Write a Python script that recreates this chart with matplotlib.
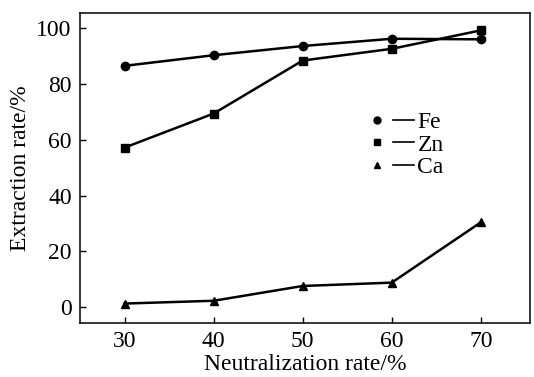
import matplotlib
matplotlib.use("Agg")
import matplotlib.pyplot as plt
from matplotlib.lines import Line2D
from matplotlib.legend_handler import HandlerTuple

# neutralization rate vs extraction rate of Fe, Zn, Ca
neutral = [30, 40, 50, 60, 70]
fe = [86.5, 90.3, 93.6, 96.2, 96.0]
zn = [57.2, 69.4, 88.4, 92.6, 99.2]
ca = [1.3, 2.3, 7.6, 8.8, 30.4]

plt.rcParams['font.family'] = ['Liberation Serif', 'DejaVu Serif']

fig = plt.figure(figsize=(5.34, 3.77), dpi=100)
ax = fig.add_axes([0.150, 0.143, 0.842, 0.823])

kw = dict(color='black', lw=1.8, markersize=6)
ax.plot(neutral, fe, marker='o', **kw)
ax.plot(neutral, zn, marker='s', **kw)
ax.plot(neutral, ca, marker='^', **kw)

ax.set_xlim(25, 75.5)
ax.set_ylim(-5.7, 105.5)
ax.set_xticks(neutral)
ax.set_yticks([0, 20, 40, 60, 80, 100])
ax.tick_params(direction='in', length=4, width=1, labelsize=17, pad=6)
for s in ax.spines.values():
    s.set_linewidth(1.1)

ax.set_xlabel('Neutralization rate/%', fontsize=17, labelpad=1)
ax.set_ylabel('Extraction rate/%', fontsize=17, labelpad=4)

# legend: marker, then a short dash, then the element name
names = ['Fe', 'Zn', 'Ca']
marks = ['o', 's', '^']
handles = []
for m in marks:
    handles.append((Line2D([], [], color='black', marker=m, ls='none', markersize=5),
                    Line2D([], [], color='black', lw=1.2)))
ax.legend(handles, names, handler_map={tuple: HandlerTuple(ndivide=None, pad=0.2)},
          loc='upper left', bbox_to_anchor=(0.611, 0.72), frameon=False,
          fontsize=17, handlelength=2.0, handletextpad=0.15, labelspacing=0.05,
          borderpad=0)

fig.savefig('out.png', dpi=100)
